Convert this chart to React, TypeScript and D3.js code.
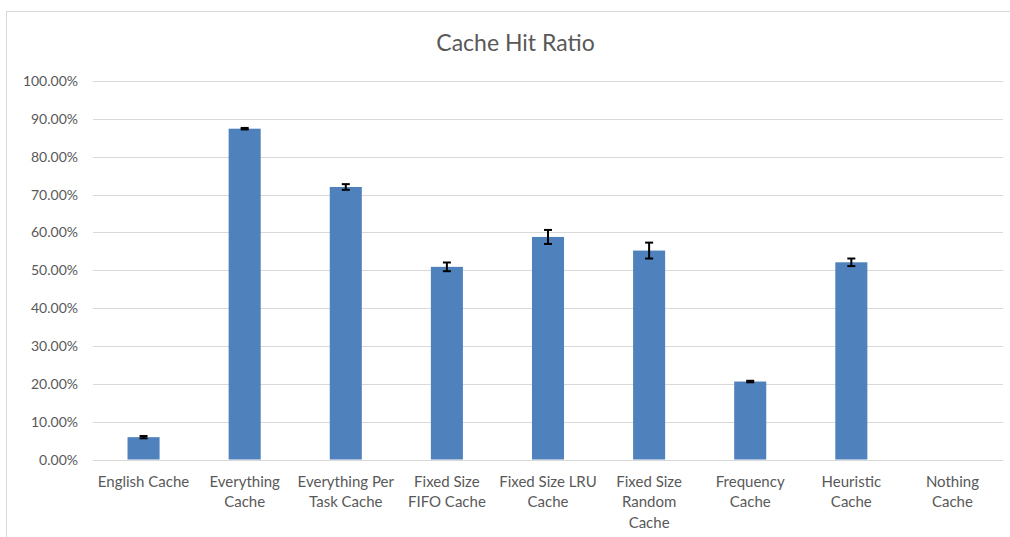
import React from "react";
import * as d3 from "d3";

const categories: string[][] = [
  ["English Cache"],
  ["Everything", "Cache"],
  ["Everything Per", "Task Cache"],
  ["Fixed Size", "FIFO Cache"],
  ["Fixed Size LRU", "Cache"],
  ["Fixed Size", "Random", "Cache"],
  ["Frequency", "Cache"],
  ["Heuristic", "Cache"],
  ["Nothing", "Cache"],
];
const values: number[] = [0.059, 0.874, 0.72, 0.509, 0.588, 0.552, 0.206, 0.521, 0];
const errors: (number | null)[] = [0.003, 0.002, 0.0075, 0.0115, 0.0185, 0.021, 0.002, 0.01, null];
const yTicks: number[] = [0, 0.1, 0.2, 0.3, 0.4, 0.5, 0.6, 0.7, 0.8, 0.9, 1.0];
const title = "Cache Hit Ratio";

const W = 1010;
const H = 537;
const FONT = "Lato, 'Open Sans', sans-serif";
const TEXT = "#595959";

export default function App() {
  const x = d3
    .scaleBand<number>()
    .domain(values.map((_, i) => i))
    .range([93, 1003])
    .paddingInner(0.683)
    .paddingOuter(0.3415);
  const y = d3.scaleLinear().domain([0, 1]).range([459.5, 81]);
  const fmt = (v: number) => (v * 100).toFixed(2) + "%";
  const bw = x.bandwidth();

  return (
    <svg
      width={W}
      height={H}
      style={{ position: "absolute", left: 0, top: 0, display: "block" }}
      fontFamily={FONT}
    >
      <rect x={0} y={0} width={W} height={H} fill="#fff" />
      <rect x={6.5} y={11.5} width={W + 20} height={H + 20} fill="#fff" stroke="#d9d9d9" strokeWidth={1} />
      <text x={515.5} y={51} textAnchor="middle" fontSize={23} fill={TEXT}>
        {title}
      </text>
      {yTicks.map((t) => (
        <g key={t}>
          <line x1={93} x2={1003} y1={Math.round(y(t)) + 0.5} y2={Math.round(y(t)) + 0.5} stroke="#d9d9d9" strokeWidth={1} />
          <text x={78} y={y(t) + 5} textAnchor="end" fontSize={14} fill={TEXT}>
            {fmt(t)}
          </text>
        </g>
      ))}
      {values.map((v, i) => (
        <rect key={"b" + i} x={x(i)} y={y(v)} width={bw} height={y(0) - y(v)} fill="#4f81bd" />
      ))}
      {values.map((v, i) => {
        const e = errors[i];
        if (e == null) return null;
        const cx = (x(i) as number) + bw / 2;
        return (
          <g key={"e" + i} stroke="#000" strokeWidth={2}>
            <line x1={cx} x2={cx} y1={y(v + e)} y2={y(v - e)} />
            <line x1={cx - 4} x2={cx + 4} y1={y(v + e)} y2={y(v + e)} />
            <line x1={cx - 4} x2={cx + 4} y1={y(v - e)} y2={y(v - e)} />
          </g>
        );
      })}
      {categories.map((lines, i) => {
        const cx = (x(i) as number) + bw / 2;
        return (
          <text key={"c" + i} textAnchor="middle" fontSize={15} fill={TEXT}>
            {lines.map((l, j) => (
              <tspan key={j} x={cx} y={486.5 + j * 20.5}>
                {l}
              </tspan>
            ))}
          </text>
        );
      })}
    </svg>
  );
}
